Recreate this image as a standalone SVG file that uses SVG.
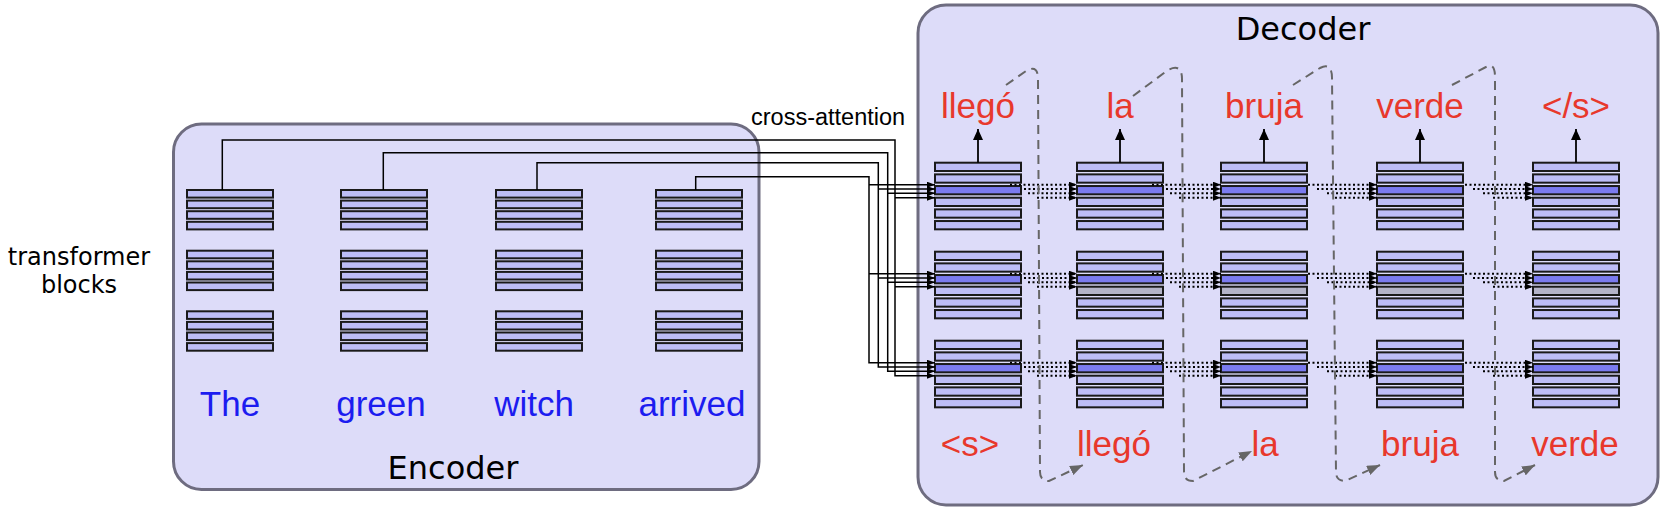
<svg xmlns="http://www.w3.org/2000/svg" width="1668" height="512" viewBox="0 0 1668 512">
<style>
.box{fill:#dddcf9;stroke:#6e6c80;stroke-width:3}
.bar{fill:#bdbdf6;stroke:#1a1a1a;stroke-width:2}
.hi{fill:#7b7bef}
.gr{fill:#b3b3c8}
.title{font-family:"DejaVu Sans",sans-serif;font-size:32px;fill:#000;text-anchor:middle}
.side{font-family:"DejaVu Sans",sans-serif;font-size:24px;fill:#000;text-anchor:middle}
.en{font-family:"Liberation Sans",Arial,sans-serif;font-size:35px;fill:#1c1cf0;text-anchor:middle}
.es{font-family:"Liberation Sans",Arial,sans-serif;font-size:35px;fill:#e8382c;text-anchor:middle}
.lab{font-family:"Liberation Sans",Arial,sans-serif;font-size:23.5px;fill:#000}
.ca{fill:none;stroke:#000;stroke-width:1.5;marker-end:url(#ah)}
.dot{fill:none;stroke:#000;stroke-width:2;stroke-dasharray:2 2.5;marker-end:url(#ah)}
.up{fill:none;stroke:#000;stroke-width:1.8;marker-end:url(#au)}
.dash{fill:none;stroke:#666;stroke-width:2;stroke-dasharray:9 6;marker-end:url(#ag)}
</style>
<defs>
<marker id="ah" viewBox="0 0 8 6" refX="8" refY="3" markerWidth="8" markerHeight="6" markerUnits="userSpaceOnUse" orient="auto"><path d="M0,0 L8,3 L0,6z" fill="#000"/></marker>
<marker id="au" viewBox="0 0 11 10" refX="11" refY="5" markerWidth="11" markerHeight="10" markerUnits="userSpaceOnUse" orient="auto"><path d="M0,0 L11,5 L0,10z" fill="#000"/></marker>
<marker id="ag" viewBox="0 0 13 10" refX="13" refY="5" markerWidth="13" markerHeight="10" markerUnits="userSpaceOnUse" orient="auto"><path d="M0,0 L13,5 L0,10z" fill="#666"/></marker>
<g id="encStack">
<rect class="bar" x="0" y="0" width="86" height="7.6"/><rect class="bar" x="0" y="10.6" width="86" height="7.6"/><rect class="bar" x="0" y="21.2" width="86" height="7.6"/><rect class="bar" x="0" y="31.8" width="86" height="7.6"/>
<rect class="bar" x="0" y="60.7" width="86" height="7.6"/><rect class="bar" x="0" y="71.3" width="86" height="7.6"/><rect class="bar" x="0" y="81.9" width="86" height="7.6"/><rect class="bar" x="0" y="92.5" width="86" height="7.6"/>
<rect class="bar" x="0" y="121.3" width="86" height="7.6"/><rect class="bar" x="0" y="131.9" width="86" height="7.6"/><rect class="bar" x="0" y="142.5" width="86" height="7.6"/><rect class="bar" x="0" y="153.1" width="86" height="7.6"/>
</g>
<g id="decLayer">
<rect class="bar" x="0" y="0" width="86" height="8.3"/><rect class="bar" x="0" y="11.67" width="86" height="8.3"/><rect class="bar hi" x="0" y="23.33" width="86" height="8.3"/><rect class="bar" x="0" y="35" width="86" height="8.3"/><rect class="bar" x="0" y="46.67" width="86" height="8.3"/><rect class="bar" x="0" y="58.33" width="86" height="8.3"/>
</g>
<g id="decLayerG">
<rect class="bar" x="0" y="0" width="86" height="8.3"/><rect class="bar" x="0" y="11.67" width="86" height="8.3"/><rect class="bar hi" x="0" y="23.33" width="86" height="8.3"/><rect class="bar gr" x="0" y="35" width="86" height="8.3"/><rect class="bar" x="0" y="46.67" width="86" height="8.3"/><rect class="bar" x="0" y="58.33" width="86" height="8.3"/>
</g>
</defs>

<g id="side-label">
<text class="side" x="79" y="265">transformer</text>
<text class="side" x="79" y="293">blocks</text>
</g>

<g id="encoder">
<rect class="box" x="173.5" y="124" width="585.5" height="365.5" rx="28"/>
<text class="title" x="453" y="479">Encoder</text>
</g>

<g id="decoder">
<rect class="box" x="918" y="5" width="740" height="500" rx="28"/>
<text class="title" x="1303" y="40">Decoder</text>
</g>

<g id="enc-the"><use href="#encStack" x="187" y="190"/><text class="en" x="230" y="416">The</text></g>
<g id="enc-green"><use href="#encStack" x="341" y="190"/><text class="en" x="381" y="416">green</text></g>
<g id="enc-witch"><use href="#encStack" x="496" y="190"/><text class="en" x="534" y="416">witch</text></g>
<g id="enc-arrived"><use href="#encStack" x="656" y="190"/><text class="en" x="692" y="416">arrived</text></g>

<g id="dec-1"><use href="#decLayer" x="935" y="162.7"/><use href="#decLayer" x="935" y="251.7"/><use href="#decLayer" x="935" y="340.7"/>
<text class="es" x="978" y="118">llegó</text><text class="es" x="970" y="456">&lt;s&gt;</text></g>
<g id="dec-2"><use href="#decLayer" x="1077" y="162.7"/><use href="#decLayerG" x="1077" y="251.7"/><use href="#decLayer" x="1077" y="340.7"/>
<text class="es" x="1120" y="118">la</text><text class="es" x="1114" y="456">llegó</text></g>
<g id="dec-3"><use href="#decLayer" x="1221" y="162.7"/><use href="#decLayerG" x="1221" y="251.7"/><use href="#decLayer" x="1221" y="340.7"/>
<text class="es" x="1264" y="118">bruja</text><text class="es" x="1265" y="456">la</text></g>
<g id="dec-4"><use href="#decLayer" x="1377" y="162.7"/><use href="#decLayerG" x="1377" y="251.7"/><use href="#decLayer" x="1377" y="340.7"/>
<text class="es" x="1420" y="118">verde</text><text class="es" x="1420" y="456">bruja</text></g>
<g id="dec-5"><use href="#decLayer" x="1533" y="162.7"/><use href="#decLayerG" x="1533" y="251.7"/><use href="#decLayer" x="1533" y="340.7"/>
<text class="es" x="1576" y="118">&lt;/s&gt;</text><text class="es" x="1575" y="456">verde</text></g>

<g id="connectors">
<text class="lab" x="751" y="125">cross-attention</text>
<path class="ca" d="M222.3,190 V140 H895 V375.7 H935"/>
<path class="ca" d="M895,197.7 H935"/><path class="ca" d="M895,286.7 H935"/>
<path class="ca" d="M383.3,190 V152.7 H887.7 V371.3 H935"/>
<path class="ca" d="M887.7,193.3 H935"/><path class="ca" d="M887.7,282.3 H935"/>
<path class="ca" d="M537,190 V162.7 H878.3 V367 H935"/>
<path class="ca" d="M878.3,189 H935"/><path class="ca" d="M878.3,278 H935"/>
<path class="ca" d="M695.7,190 V176.7 H869 V362.7 H935"/>
<path class="ca" d="M869,184.7 H935"/><path class="ca" d="M869,273.7 H935"/>
<path class="up" d="M978,162.7 V129"/>
<path class="up" d="M1120,162.7 V129"/>
<path class="up" d="M1264,162.7 V129"/>
<path class="up" d="M1420,162.7 V129"/>
<path class="up" d="M1576,162.7 V129"/>
<path class="dot" d="M1010,184.7 H1077"/><path class="dot" d="M1024,189 H1077"/><path class="dot" d="M1028,193.3 H1077"/><path class="dot" d="M1037,197.7 H1077"/>
<path class="dot" d="M1010,273.7 H1077"/><path class="dot" d="M1024,278 H1077"/><path class="dot" d="M1028,282.3 H1077"/><path class="dot" d="M1037,286.7 H1077"/>
<path class="dot" d="M1010,362.7 H1077"/><path class="dot" d="M1024,367 H1077"/><path class="dot" d="M1028,371.3 H1077"/><path class="dot" d="M1037,375.7 H1077"/>
<path class="dot" d="M1152,184.7 H1221"/><path class="dot" d="M1166,189 H1221"/><path class="dot" d="M1170,193.3 H1221"/><path class="dot" d="M1179,197.7 H1221"/>
<path class="dot" d="M1152,273.7 H1221"/><path class="dot" d="M1166,278 H1221"/><path class="dot" d="M1170,282.3 H1221"/><path class="dot" d="M1179,286.7 H1221"/>
<path class="dot" d="M1152,362.7 H1221"/><path class="dot" d="M1166,367 H1221"/><path class="dot" d="M1170,371.3 H1221"/><path class="dot" d="M1179,375.7 H1221"/>
<path class="dot" d="M1308,184.7 H1377"/><path class="dot" d="M1317,189 H1377"/><path class="dot" d="M1327,193.3 H1377"/><path class="dot" d="M1335,197.7 H1377"/>
<path class="dot" d="M1308,273.7 H1377"/><path class="dot" d="M1317,278 H1377"/><path class="dot" d="M1327,282.3 H1377"/><path class="dot" d="M1335,286.7 H1377"/>
<path class="dot" d="M1308,362.7 H1377"/><path class="dot" d="M1317,367 H1377"/><path class="dot" d="M1327,371.3 H1377"/><path class="dot" d="M1335,375.7 H1377"/>
<path class="dot" d="M1465,184.7 H1533"/><path class="dot" d="M1473,189 H1533"/><path class="dot" d="M1483,193.3 H1533"/><path class="dot" d="M1493,197.7 H1533"/>
<path class="dot" d="M1465,273.7 H1533"/><path class="dot" d="M1473,278 H1533"/><path class="dot" d="M1483,282.3 H1533"/><path class="dot" d="M1493,286.7 H1533"/>
<path class="dot" d="M1465,362.7 H1533"/><path class="dot" d="M1473,367 H1533"/><path class="dot" d="M1483,371.3 H1533"/><path class="dot" d="M1493,375.7 H1533"/>
<path class="dash" d="M1006,85 L1026,71 Q1038,64 1038,79 L1040,472 Q1040,481 1049,481 L1083,465"/>
<path class="dash" d="M1133,96 L1168,70 Q1182,63 1182,79 L1184,472 Q1184,481 1193,481 L1252,451"/>
<path class="dash" d="M1293,85 L1320,68 Q1332,62 1332,78 L1336,472 Q1336,481 1345,481 L1380,465"/>
<path class="dash" d="M1452,85 L1486,67 Q1495,62 1495,77 L1495,472 Q1495,481 1504,481 L1535,465"/>
</g>
</svg>
